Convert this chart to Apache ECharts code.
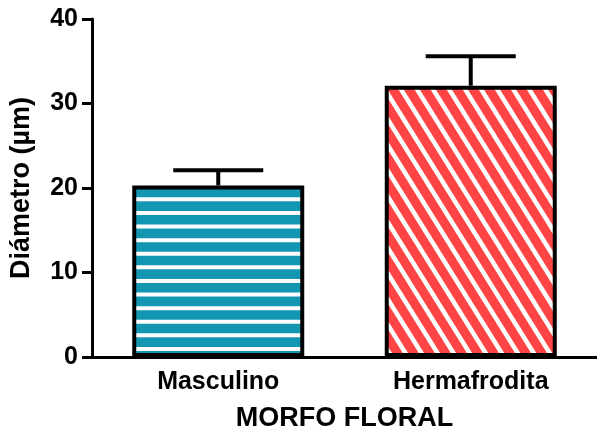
<!DOCTYPE html>
<html>
<head>
<meta charset="utf-8">
<script src="https://cdn.jsdelivr.net/npm/echarts@6/dist/echarts.min.js"></script>
<style>
  html, body { margin: 0; padding: 0; background: #fff; }
  #chart { width: 597px; height: 438px; }
</style>
</head>
<body>
<div id="chart"></div>
<script>
// Flower morph categories and mean diameter with error (µm)
const categories = ['Masculino', 'Hermafrodita'];
const meanValues = [20.3, 32.1];
const errorValues = [1.8, 3.5];
const yTicks = [0, 10, 20, 30, 40];

const W = 597, H = 438;

// Striped fills, drawn onto full-size canvases so the pattern is anchored to the chart
function stripeCanvas(bg, angleDeg, period, lineW) {
  const c = document.createElement('canvas');
  c.width = W; c.height = H;
  const ctx = c.getContext('2d');
  ctx.fillStyle = bg;
  ctx.fillRect(0, 0, W, H);
  ctx.strokeStyle = '#ffffff';
  ctx.lineWidth = lineW;
  ctx.save();
  ctx.translate(W / 2, H / 2);
  ctx.rotate(angleDeg * Math.PI / 180);
  const R = Math.hypot(W, H);
  for (let y = -R; y <= R; y += period) {
    ctx.beginPath();
    ctx.moveTo(-R, y);
    ctx.lineTo(R, y);
    ctx.stroke();
  }
  ctx.restore();
  return c;
}

const tealFill = { image: stripeCanvas('#1396b1', 0, 13.6, 4), repeat: 'no-repeat' };
const redFill = { image: stripeCanvas('#fe4444', 58, 13.6, 4.5), repeat: 'no-repeat' };
const fills = [tealFill, redFill];

const chart = echarts.init(document.getElementById('chart'), null, { renderer: 'canvas' });

const font = '"Liberation Sans", Arial, sans-serif';

chart.setOption({
  animation: false,
  grid: { left: 92, right: -5, top: 19, bottom: 81, containLabel: false },
  xAxis: {
    type: 'category',
    data: categories,
    name: 'MORFO FLORAL',
    nameLocation: 'middle',
    nameGap: 48,
    nameTextStyle: { fontFamily: font, fontWeight: 'bold', fontSize: 27, color: '#000' },
    axisLine: { lineStyle: { color: '#000', width: 3 } },
    axisTick: { alignWithLabel: true, length: 10, lineStyle: { color: '#000', width: 3 } },
    axisLabel: { fontFamily: font, fontWeight: 'bold', fontSize: 25, color: '#000', margin: 13 },
    splitLine: { show: false }
  },
  yAxis: {
    type: 'value',
    min: yTicks[0],
    max: yTicks[yTicks.length - 1],
    interval: 10,
    name: 'Diámetro (µm)',
    nameLocation: 'middle',
    nameRotate: 90,
    nameGap: 57,
    nameTextStyle: { fontFamily: font, fontWeight: 'bold', fontSize: 27, color: '#000' },
    axisLine: { show: true, lineStyle: { color: '#000', width: 3 } },
    axisTick: { show: true, length: 10, lineStyle: { color: '#000', width: 3 } },
    axisLabel: { fontFamily: font, fontWeight: 'bold', fontSize: 25, color: '#000', margin: 14 },
    splitLine: { show: false }
  },
  series: [
    {
      type: 'bar',
      barWidth: 172,
      data: meanValues.map((v, i) => ({
        value: v,
        itemStyle: { color: fills[i], borderColor: '#000', borderWidth: 4 }
      })),
      z: 2
    },
    {
      type: 'custom',
      z: 1,
      data: meanValues.map((v, i) => [i, v, v + errorValues[i]]),
      renderItem: function (params, api) {
        const x = api.coord([api.value(0), 0])[0];
        const yLow = api.coord([api.value(0), api.value(1)])[1];
        const yHigh = api.coord([api.value(0), api.value(2)])[1];
        const half = 45;
        const style = { stroke: '#000', lineWidth: 4, fill: null };
        return {
          type: 'group',
          children: [
            { type: 'line', shape: { x1: x, y1: yLow, x2: x, y2: yHigh }, style: style },
            { type: 'line', shape: { x1: x - half, y1: yHigh, x2: x + half, y2: yHigh }, style: style }
          ]
        };
      }
    }
  ]
});
</script>
</body>
</html>
